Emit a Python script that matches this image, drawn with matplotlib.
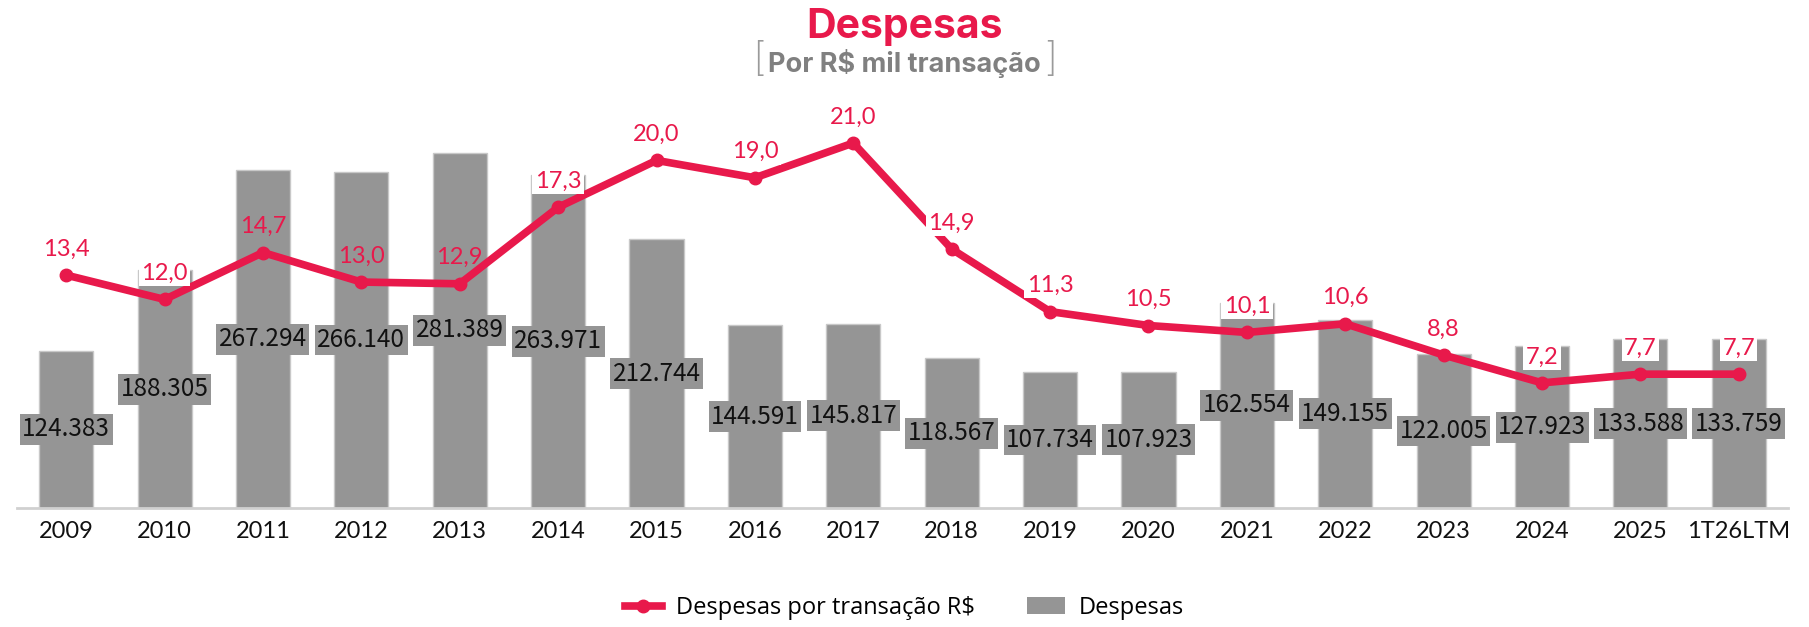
import matplotlib
matplotlib.use("Agg")
import matplotlib.pyplot as plt
from matplotlib.lines import Line2D
from matplotlib.patches import Patch

categories = ["2009", "2010", "2011", "2012", "2013", "2014", "2015", "2016", "2017",
              "2018", "2019", "2020", "2021", "2022", "2023", "2024", "2025", "1T26LTM"]
despesas = [124383, 188305, 267294, 266140, 281389, 263971, 212744, 144591, 145817,
            118567, 107734, 107923, 162554, 149155, 122005, 127923, 133588, 133759]
por_transacao = [13.4, 12.0, 14.7, 13.0, 12.9, 17.3, 20.0, 19.0, 21.0,
                 14.9, 11.3, 10.5, 10.1, 10.6, 8.8, 7.2, 7.7, 7.7]

RED = "#E8194B"
GRAY = "#959595"
NO_BOX = {2, 3, 4}  # line labels drawn without white background

W, H = 1809, 627
fig = plt.figure(figsize=(W / 100, H / 100), dpi=100)
left, right, bottom, top = 17, 1788, 508, 90
ax = fig.add_axes([left / W, 1 - bottom / H, (right - left) / W, (bottom - top) / H])
x = list(range(len(categories)))

ax.bar(x, despesas, width=0.55, color=GRAY, edgecolor="#c8c8c8", linewidth=1, zorder=2)
ax.set_xlim(-0.5, len(categories) - 0.5)
ax.set_ylim(0, 331000)
for xi, v in zip(x, despesas):
    ax.text(xi, v / 2, f"{v:,}".replace(",", "."), ha="center", va="center",
            fontsize=17.5, family=["Noto Sans CJK SC", "DejaVu Sans"], color="#111111",
            bbox=dict(boxstyle="square,pad=0.1", facecolor=GRAY, edgecolor="none"), zorder=3)

for s in ["top", "right", "left"]:
    ax.spines[s].set_visible(False)
ax.spines["bottom"].set_color("#d0d0d0")
ax.spines["bottom"].set_linewidth(2)
ax.set_yticks([])
ax.set_xticks(x)
ax.set_xticklabels(categories, fontsize=17, family="Lato", color="#111111")
ax.tick_params(axis="x", length=0, pad=9)

ax2 = ax.twinx()
ax2.set_ylim(0, 24.05)
ax2.plot(x, por_transacao, color=RED, lw=5.5, marker="o", markersize=9, zorder=4,
         solid_joinstyle="round")
for s in ["top", "right", "left", "bottom"]:
    ax2.spines[s].set_visible(False)
ax2.set_yticks([])
for i, (xi, v) in enumerate(zip(x, por_transacao)):
    box = None if i in NO_BOX else dict(boxstyle="square,pad=0.1", facecolor="white",
                                        edgecolor="none")
    ax2.annotate(f"{v:.1f}".replace(".", ","), (xi, v), xytext=(0, 26),
                 textcoords="offset pixels", ha="center", va="center",
                 fontsize=17, family="Lato", color=RED, bbox=box, zorder=5)

fig.text(0.5, 1 - 27 / H, "Despesas", ha="center", va="center", fontsize=29.5,
         family="Inter", weight="bold", color=RED)
sub = fig.text(0.5, 1 - 63 / H, "Por R$ mil transação", ha="center", va="center",
               fontsize=19.5, family="Inter", weight="bold", color="#808080")
fig.canvas.draw()
bb = sub.get_window_extent()
yb = 1 - 61 / H
fig.text((bb.x0 - 3) / W, yb, "[", ha="right", va="center", fontsize=29,
         family="Inter", weight="light", color="#9a9a9a")
fig.text((bb.x1 + 3) / W, yb, "]", ha="left", va="center", fontsize=29,
         family="Inter", weight="light", color="#9a9a9a")

handles = [Line2D([0], [0], color=RED, lw=5.5, marker="o", markersize=9),
           Patch(facecolor=GRAY, edgecolor="none")]
fig.legend(handles, ["Despesas por transação R$", "Despesas"], loc="center",
           bbox_to_anchor=(0.5, 1 - 608 / H), ncol=2, frameon=False,
           prop=dict(family="Open Sans", size=17), handlelength=1.6, columnspacing=2.2,
           handletextpad=0.6)

fig.savefig("out.png", dpi=100, facecolor="white")
